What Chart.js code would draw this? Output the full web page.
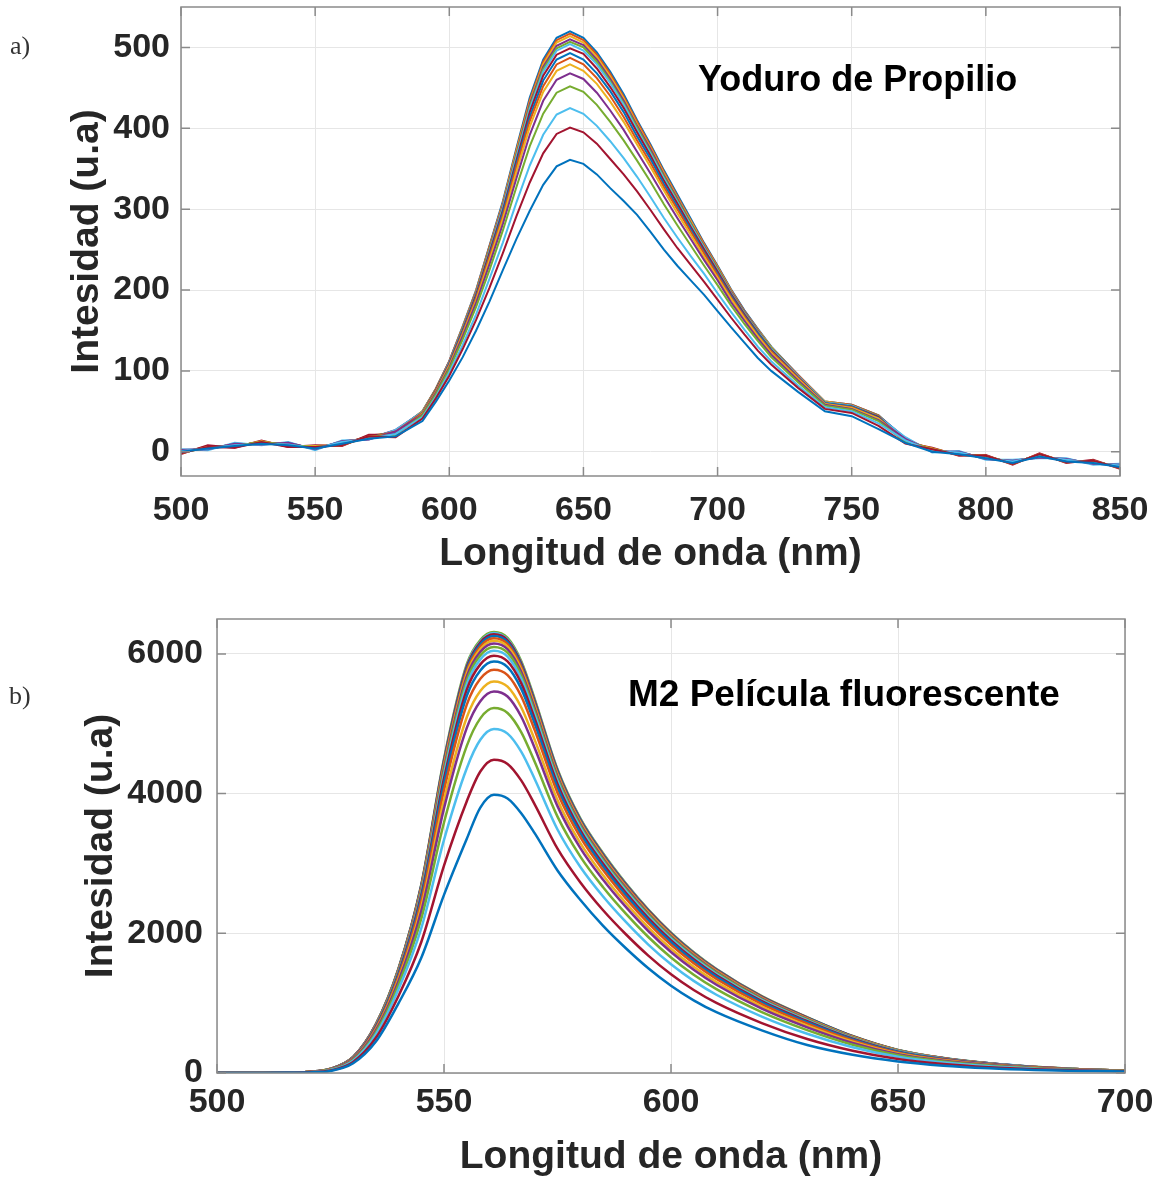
<!DOCTYPE html>
<html>
<head>
<meta charset="utf-8">
<title>Espectros de fluorescencia</title>
<script src="https://cdn.jsdelivr.net/npm/chart.js@4.4.1/dist/chart.umd.min.js"></script>
<style>
  body { margin: 0; background: #fff; }
  #page { position: relative; width: 1159px; height: 1181px; overflow: hidden; }
  canvas { position: absolute; left: 0; }
  #chartA { top: 0; }
  #chartB { top: 580px; }
  .panel { position: absolute; font-family: "Liberation Serif", "Times New Roman", serif; font-size: 26px; line-height: 26px; color: #333; }
  .note { position: absolute; font-family: "Liberation Sans", Arial, sans-serif; font-weight: bold; font-size: 36px; line-height: 36px; color: #000; white-space: nowrap; }
</style>
</head>
<body>
<div id="page">
  <canvas id="chartA" width="1159" height="580"></canvas>
  <canvas id="chartB" width="1159" height="601"></canvas>
  <div class="panel" style="left:10px; top:33px;">a)</div>
  <div class="panel" style="left:9px; top:683px;">b)</div>
  <div class="note" style="left:698px; top:61px;">Yoduro de Propilio</div>
  <div class="note" style="left:628px; top:676px; font-size:37px;">M2 Película fluorescente</div>
</div>

<script>
// a) Yoduro de Propilio - wavelengths (nm)
var waveA = [500, 510, 520, 530, 540, 550, 560, 570, 580, 590, 595, 600, 605, 610, 615, 620, 625, 630, 635, 640, 645, 650, 655, 660, 665, 670, 675, 680, 685, 690, 695, 700, 705, 710, 715, 720, 730, 740, 750, 760, 770, 780, 790, 800, 810, 820, 830, 840, 850];
var ticksAX = [500, 550, 600, 650, 700, 750, 800, 850];
var ticksAY = [0, 100, 200, 300, 400, 500];

// spectra, lowest peak first
var yoduro1 = [0, 4, 7, 10, 8, 4, 10, 16, 19, 38, 62, 88, 117, 150, 186, 225, 263, 298, 330, 353, 361, 356, 343, 326, 310, 293, 272, 250, 230, 212, 194, 174, 154, 135, 116, 100, 74, 50, 44, 28, 11, 0, -3, -8, -14, -6, -12, -14, -19];
var yoduro2 = [-2, 6, 5, 12, 6, 6, 8, 19, 18, 41, 66, 94, 127, 163, 203, 246, 291, 333, 369, 393, 401, 395, 381, 362, 343, 322, 299, 275, 252, 231, 210, 188, 166, 145, 125, 108, 79, 53, 48, 32, 10, 3, -4, -5, -15, -3, -13, -11, -20];
var yoduro3 = [1, 4, 8, 10, 9, 4, 12, 16, 22, 43, 68, 98, 132, 170, 214, 259, 308, 354, 392, 417, 425, 418, 403, 384, 363, 340, 315, 289, 265, 242, 220, 196, 173, 151, 130, 112, 82, 55, 50, 35, 14, 1, -1, -8, -12, -6, -10, -14, -17];
var yoduro4 = [-1, 5, 7, 12, 8, 6, 9, 18, 21, 45, 71, 102, 139, 179, 225, 274, 327, 378, 418, 444, 452, 445, 429, 408, 385, 360, 334, 306, 280, 255, 230, 206, 181, 158, 137, 117, 86, 57, 52, 38, 12, 3, -3, -6, -14, -4, -12, -12, -19];
var yoduro5 = [2, 3, 10, 9, 11, 3, 13, 15, 25, 46, 73, 104, 143, 184, 232, 282, 338, 392, 434, 460, 468, 461, 444, 422, 398, 371, 344, 316, 289, 263, 237, 212, 185, 162, 140, 120, 88, 58, 53, 39, 16, 0, 0, -9, -11, -7, -9, -15, -16];
var yoduro6 = [-2, 6, 6, 13, 7, 7, 8, 19, 21, 47, 74, 106, 145, 187, 237, 288, 346, 402, 445, 471, 479, 471, 455, 433, 408, 380, 352, 323, 295, 268, 241, 215, 189, 165, 143, 122, 90, 59, 54, 41, 12, 4, -4, -5, -15, -3, -13, -11, -20];
var yoduro7 = [1, 4, 9, 10, 10, 4, 12, 17, 25, 48, 75, 107, 147, 190, 241, 292, 352, 409, 452, 479, 487, 479, 462, 440, 414, 385, 357, 327, 300, 272, 245, 218, 191, 167, 144, 124, 91, 59, 55, 41, 15, 1, -1, -8, -12, -6, -10, -14, -17];
var yoduro8 = [0, 5, 8, 11, 9, 5, 10, 18, 24, 48, 75, 108, 149, 192, 243, 296, 356, 414, 459, 485, 493, 485, 468, 446, 420, 390, 362, 331, 303, 275, 247, 220, 193, 168, 146, 125, 91, 60, 56, 42, 14, 2, -2, -7, -13, -5, -11, -13, -18];
var yoduro9 = [-3, 8, 5, 14, 6, 8, 7, 21, 21, 48, 76, 109, 150, 194, 246, 299, 360, 420, 465, 491, 499, 492, 474, 451, 425, 395, 366, 335, 307, 278, 250, 223, 195, 170, 147, 126, 92, 60, 56, 43, 11, 5, -5, -4, -16, -2, -14, -10, -21];
var yoduro10 = [3, 2, 11, 8, 12, 2, 14, 15, 27, 49, 76, 110, 151, 195, 248, 302, 364, 424, 470, 496, 504, 496, 479, 456, 429, 398, 369, 338, 309, 280, 252, 224, 196, 171, 148, 127, 93, 61, 57, 43, 18, -1, 1, -10, -10, -8, -8, -16, -15];
var yoduro11 = [-1, 6, 7, 12, 8, 6, 9, 19, 24, 49, 77, 110, 152, 196, 250, 303, 366, 427, 473, 499, 507, 500, 482, 458, 431, 401, 371, 340, 311, 282, 253, 226, 197, 172, 149, 128, 93, 61, 57, 44, 14, 3, -3, -6, -14, -4, -12, -12, -19];
var yoduro12 = [2, 3, 10, 9, 11, 3, 13, 16, 27, 49, 77, 111, 153, 197, 251, 305, 368, 430, 476, 502, 510, 503, 485, 461, 434, 403, 374, 342, 313, 283, 254, 227, 198, 173, 150, 128, 94, 61, 57, 44, 17, 0, 0, -9, -11, -7, -9, -15, -16];
var yoduro13 = [0, 5, 8, 11, 9, 5, 10, 18, 25, 50, 77, 111, 154, 198, 252, 307, 371, 432, 479, 506, 514, 506, 488, 464, 437, 405, 376, 344, 314, 285, 255, 228, 199, 173, 151, 129, 94, 62, 57, 44, 15, 2, -2, -7, -13, -5, -11, -13, -18];
var yoduro14 = [-2, 7, 6, 13, 7, 7, 8, 20, 23, 50, 78, 112, 154, 199, 254, 308, 373, 435, 482, 509, 517, 509, 491, 467, 439, 408, 378, 346, 316, 286, 257, 229, 200, 174, 151, 129, 95, 62, 58, 45, 13, 4, -4, -5, -15, -3, -13, -11, -20];
var yoduro15 = [1, 4, 9, 10, 10, 4, 12, 17, 26, 50, 78, 112, 155, 200, 255, 310, 375, 438, 485, 512, 520, 512, 494, 470, 442, 410, 380, 348, 318, 288, 258, 230, 201, 175, 152, 130, 95, 62, 58, 45, 16, 1, -1, -8, -12, -6, -10, -14, -17];

// b) M2 Pelicula fluorescente - wavelengths (nm)
var waveB = [500, 510, 515, 520, 525, 530, 535, 540, 545, 550, 555, 558, 561, 564, 567, 570, 575, 580, 585, 590, 595, 600, 605, 610, 620, 630, 640, 650, 660, 670, 680, 690, 700];
var ticksBX = [500, 550, 600, 650, 700];
var ticksBY = [0, 2000, 4000, 6000];

var pelicula1 = [0, 0, 2, 8, 30, 140, 450, 1000, 1650, 2550, 3350, 3800, 3983, 3930, 3720, 3430, 2900, 2480, 2110, 1790, 1500, 1250, 1040, 870, 610, 400, 260, 165, 105, 68, 44, 30, 22];
var pelicula2 = [0, 0, 2, 10, 36, 159, 504, 1107, 1876, 2969, 3888, 4316, 4484, 4425, 4189, 3843, 3212, 2732, 2334, 1990, 1681, 1413, 1188, 1003, 715, 486, 318, 200, 129, 83, 53, 35, 24];
var pelicula3 = [0, 0, 2, 11, 42, 176, 551, 1202, 2074, 3338, 4360, 4770, 4924, 4859, 4601, 4206, 3486, 2953, 2530, 2166, 1839, 1557, 1319, 1120, 808, 562, 369, 232, 149, 97, 62, 40, 26];
var pelicula4 = [0, 0, 3, 12, 46, 188, 583, 1266, 2209, 3587, 4680, 5077, 5224, 5154, 4880, 4451, 3671, 3102, 2663, 2285, 1947, 1654, 1407, 1200, 871, 613, 404, 253, 164, 106, 67, 43, 27];
var pelicula5 = [0, 0, 3, 12, 49, 197, 609, 1317, 2317, 3788, 4938, 5324, 5463, 5391, 5104, 4649, 3821, 3223, 2770, 2381, 2033, 1733, 1478, 1264, 921, 654, 431, 270, 175, 114, 72, 46, 28];
var pelicula6 = [0, 0, 3, 13, 51, 203, 624, 1348, 2381, 3907, 5090, 5470, 5606, 5531, 5237, 4766, 3909, 3294, 2834, 2437, 2085, 1779, 1520, 1302, 951, 678, 448, 280, 182, 118, 75, 47, 29];
var pelicula7 = [0, 0, 3, 13, 53, 209, 642, 1384, 2456, 4048, 5270, 5643, 5774, 5696, 5394, 4905, 4014, 3379, 2909, 2504, 2145, 1834, 1570, 1346, 986, 707, 467, 292, 189, 123, 78, 49, 30];
var pelicula8 = [0, 0, 3, 14, 55, 214, 655, 1409, 2509, 4145, 5395, 5763, 5890, 5811, 5503, 5001, 4086, 3437, 2961, 2551, 2187, 1872, 1604, 1377, 1011, 727, 481, 300, 195, 127, 80, 50, 30];
var pelicula9 = [0, 0, 3, 14, 56, 217, 664, 1427, 2547, 4215, 5485, 5850, 5975, 5894, 5582, 5070, 4138, 3479, 2998, 2584, 2217, 1899, 1629, 1399, 1028, 742, 491, 306, 199, 129, 82, 51, 31];
var pelicula10 = [0, 0, 3, 14, 57, 220, 671, 1442, 2578, 4274, 5560, 5922, 6045, 5963, 5647, 5127, 4182, 3514, 3029, 2612, 2243, 1922, 1650, 1418, 1043, 754, 499, 311, 202, 132, 83, 52, 31];
var pelicula11 = [0, 0, 3, 14, 57, 222, 677, 1454, 2603, 4321, 5620, 5979, 6100, 6018, 5699, 5173, 4217, 3542, 3054, 2634, 2263, 1940, 1667, 1433, 1055, 763, 505, 315, 205, 133, 84, 53, 31];
var pelicula12 = [0, 0, 3, 15, 58, 224, 682, 1464, 2625, 4362, 5673, 6030, 6150, 6067, 5745, 5214, 4247, 3567, 3076, 2654, 2280, 1956, 1681, 1446, 1065, 772, 511, 318, 207, 135, 85, 53, 31];
var pelicula13 = [0, 0, 3, 15, 58, 225, 687, 1473, 2643, 4395, 5715, 6070, 6190, 6106, 5782, 5246, 4272, 3587, 3094, 2670, 2295, 1969, 1693, 1457, 1074, 778, 515, 321, 209, 136, 86, 54, 31];
var pelicula14 = [0, 0, 3, 15, 59, 227, 690, 1480, 2659, 4424, 5753, 6106, 6225, 6140, 5815, 5275, 4293, 3604, 3109, 2684, 2307, 1980, 1703, 1466, 1081, 784, 519, 324, 211, 137, 86, 54, 32];
var pelicula15 = [0, 0, 3, 15, 59, 228, 694, 1487, 2673, 4449, 5785, 6138, 6255, 6170, 5843, 5300, 4312, 3620, 3123, 2696, 2318, 1990, 1712, 1474, 1087, 790, 523, 326, 212, 138, 87, 54, 32];
var pelicula16 = [0, 0, 3, 15, 60, 229, 696, 1492, 2684, 4471, 5813, 6164, 6280, 6196, 5867, 5321, 4328, 3632, 3134, 2706, 2327, 1999, 1720, 1481, 1093, 794, 526, 328, 213, 139, 87, 55, 32];
var pelicula17 = [0, 0, 3, 15, 60, 229, 698, 1495, 2690, 4480, 5825, 6176, 6300, 6207, 5878, 5331, 4336, 3638, 3140, 2711, 2332, 2002, 1723, 1484, 1095, 796, 527, 328, 214, 139, 88, 55, 32];
var pelicula18 = [0, 0, 3, 15, 60, 230, 700, 1500, 2700, 4500, 5850, 6200, 6315, 6230, 5900, 5350, 4350, 3650, 3150, 2720, 2340, 2010, 1730, 1490, 1100, 800, 530, 330, 215, 140, 88, 55, 32];

// MATLAB line colours, in the order they appear going up from the lowest curve
var lineColors = ["#0072BD", "#A2142F", "#4DBEEE", "#77AC30", "#7E2F8E", "#EDB120", "#D95319"];

var yoduroSeries = [yoduro1, yoduro2, yoduro3, yoduro4, yoduro5, yoduro6, yoduro7, yoduro8,
    yoduro9, yoduro10, yoduro11, yoduro12, yoduro13, yoduro14, yoduro15];
var peliculaSeries = [pelicula1, pelicula2, pelicula3, pelicula4, pelicula5, pelicula6, pelicula7, pelicula8, pelicula9,
    pelicula10, pelicula11, pelicula12, pelicula13, pelicula14, pelicula15, pelicula16, pelicula17, pelicula18];

var textColor = "#262626";
var fontFamily = '"Liberation Sans", Arial, Helvetica, sans-serif';

function toPoints(xs, ys) {
    return xs.map(function (x, i) {
        return { x: x, y: ys[i] };
    });
}

function buildDatasets(xs, seriesList, width, tension) {
    return seriesList.map(function (ys, i) {
        return {
            data: toPoints(xs, ys),
            borderColor: lineColors[i % lineColors.length],
            borderWidth: width,
            pointRadius: 0,
            tension: tension,
            cubicInterpolationMode: tension > 0 ? "monotone" : "default",
            fill: false
        };
    });
}

function fixedTicks(values) {
    return function (scale) {
        scale.ticks = values.map(function (v) {
            return { value: v };
        });
    };
}

// box round the plot plus inward tick marks, like the MATLAB axes
var framePlugin = {
    id: "frame",
    afterDatasetsDraw: function (chart) {
        var ctx = chart.ctx;
        var a = chart.chartArea;
        var xs = chart.scales.x;
        var ys = chart.scales.y;
        ctx.save();
        ctx.strokeStyle = "#8a8a8a";
        ctx.lineWidth = 1.5;
        ctx.strokeRect(a.left, a.top, a.right - a.left, a.bottom - a.top);
        ctx.beginPath();
        xs.ticks.forEach(function (t) {
            var px = xs.getPixelForValue(t.value);
            ctx.moveTo(px, a.bottom);
            ctx.lineTo(px, a.bottom - 9);
            ctx.moveTo(px, a.top);
            ctx.lineTo(px, a.top + 9);
        });
        ys.ticks.forEach(function (t) {
            var py = ys.getPixelForValue(t.value);
            ctx.moveTo(a.left, py);
            ctx.lineTo(a.left + 9, py);
            ctx.moveTo(a.right, py);
            ctx.lineTo(a.right - 9, py);
        });
        ctx.stroke();
        ctx.restore();
    }
};

function makeChart(canvasId, cfg) {
    var ctx = document.getElementById(canvasId).getContext("2d");
    return new Chart(ctx, {
        type: "line",
        data: { datasets: cfg.datasets },
        plugins: [framePlugin],
        options: {
            responsive: false,
            animation: false,
            devicePixelRatio: 1,
            events: [],
            layout: { padding: cfg.padding },
            plugins: {
                legend: { display: false },
                tooltip: { enabled: false }
            },
            scales: {
                x: {
                    type: "linear",
                    min: cfg.xMin,
                    max: cfg.xMax,
                    afterBuildTicks: fixedTicks(cfg.xTicks),
                    grid: { color: "#e6e6e6", drawTicks: false },
                    border: { display: false },
                    ticks: {
                        autoSkip: false,
                        maxRotation: 0,
                        padding: cfg.xTickPad,
                        color: textColor,
                        font: { family: fontFamily, size: 34, weight: "bold" },
                        callback: function (v) { return String(v); }
                    },
                    title: {
                        display: true,
                        text: "Longitud de onda (nm)",
                        color: textColor,
                        font: { family: fontFamily, size: 39, weight: "bold" },
                        padding: { top: 0, bottom: cfg.xTitlePad }
                    },
                    afterFit: function (scale) {
                        scale.height = cfg.xHeight;
                        scale.paddingLeft = 0;
                        scale.paddingRight = 0;
                    }
                },
                y: {
                    type: "linear",
                    min: cfg.yMin,
                    max: cfg.yMax,
                    afterBuildTicks: fixedTicks(cfg.yTicks),
                    grid: { color: "#e6e6e6", drawTicks: false },
                    border: { display: false },
                    ticks: {
                        autoSkip: false,
                        padding: cfg.yTickPad,
                        color: textColor,
                        font: { family: fontFamily, size: 34, weight: "bold" },
                        callback: function (v) { return String(v); }
                    },
                    title: {
                        display: true,
                        text: "Intesidad (u.a)",
                        color: textColor,
                        font: { family: fontFamily, size: 39, weight: "bold" },
                        padding: { top: cfg.yTitlePad, bottom: 0 }
                    },
                    afterFit: function (scale) {
                        scale.width = cfg.yWidth;
                        scale.paddingTop = 0;
                        scale.paddingBottom = 0;
                    }
                }
            }
        }
    });
}

makeChart("chartA", {
    datasets: buildDatasets(waveA, yoduroSeries, 2, 0),
    padding: { left: 0, top: 7, right: 39, bottom: 0 },
    xMin: 500, xMax: 850, xTicks: ticksAX,
    yMin: -30, yMax: 550, yTicks: ticksAY,
    xHeight: 104, yWidth: 181,
    xTickPad: 14, yTickPad: 11,
    xTitlePad: 2, yTitlePad: 64
});

makeChart("chartB", {
    datasets: buildDatasets(waveB, peliculaSeries, 2.5, 0.4),
    padding: { left: 0, top: 39, right: 34, bottom: 0 },
    xMin: 500, xMax: 700, xTicks: ticksBX,
    yMin: 0, yMax: 6500, yTicks: ticksBY,
    xHeight: 108, yWidth: 217,
    xTickPad: 9, yTickPad: 14,
    xTitlePad: 0, yTitlePad: 78
});
</script>
</body>
</html>
